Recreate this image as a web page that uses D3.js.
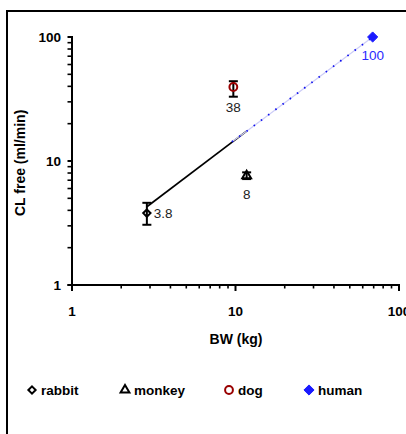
<!DOCTYPE html>
<html>
<head>
<meta charset="utf-8">
<script src="https://cdn.jsdelivr.net/npm/d3@7"></script>
<style>
  html, body { margin: 0; padding: 0; background: #fff; }
  svg { display: block; font-family: Arial, "Liberation Sans", sans-serif; }
</style>
</head>
<body>
<svg id="chart" width="406" height="434"></svg>
<script>
// Species clearance vs. body weight (log–log)
const species   = ["rabbit", "monkey", "dog", "human"];
const bodyWeight = [2.87, 11.7, 9.7, 69];      // kg
const clFree     = [3.8, 7.6, 39.5, 100];      // ml/min
const clLow      = [3.06, 7.15, 33, null];     // lower error limit
const clHigh     = [4.6, 8.1, 44, null];       // upper error limit
const valueLabels = ["3.8", "8", "38", "100"];

// Allometric fit: measured range and extrapolation to human
const fitBW  = [2.87, 11.7];
const fitCL  = [4.28, 17.4];
const extBW  = [9.5, 11.7, 69];
const extCL  = [14.3, 17.4, 100];

const xTicks = [1, 10, 100];
const yTicks = [1, 10, 100];

const svg = d3.select("#chart");

// outer frame
svg.append("rect")
  .attr("x", 7).attr("y", 11)
  .attr("width", 430).attr("height", 440)
  .attr("fill", "none").attr("stroke", "#000").attr("stroke-width", 2);

const x = d3.scaleLog().domain([1, 100]).range([72, 399]);
const y = d3.scaleLog().domain([1, 100]).range([285, 37]);

const minorVals = [];
[1, 10].forEach(d => { for (let k = 2; k <= 9; k++) minorVals.push(d * k); });

// y axis
const yAxisG = svg.append("g").attr("transform", "translate(72,0)");
yAxisG.append("line").attr("y1", y(1)).attr("y2", y(100) - 1)
  .attr("stroke", "#000").attr("stroke-width", 2);
yAxisG.selectAll("line.minor").data(minorVals).join("line")
  .attr("class", "minor")
  .attr("x1", -4.5).attr("x2", 0)
  .attr("y1", d => y(d)).attr("y2", d => y(d))
  .attr("stroke", "#000").attr("stroke-width", 1.6);
yAxisG.selectAll("line.major").data(yTicks).join("line")
  .attr("class", "major")
  .attr("x1", -4.5).attr("x2", 0)
  .attr("y1", d => y(d)).attr("y2", d => y(d))
  .attr("stroke", "#000").attr("stroke-width", 2);
yAxisG.selectAll("text").data(yTicks).join("text")
  .attr("x", -11).attr("y", d => y(d)).attr("dy", "0.36em")
  .attr("text-anchor", "end")
  .attr("font-size", 13.5).attr("font-weight", "bold")
  .text(d => d3.format("d")(d));

// x axis
const xAxisG = svg.append("g").attr("transform", `translate(0,${y(1)})`);
xAxisG.append("line").attr("x1", x(1) - 4.5).attr("x2", x(100) + 1)
  .attr("stroke", "#000").attr("stroke-width", 2);
xAxisG.selectAll("line.minor").data(minorVals).join("line")
  .attr("class", "minor")
  .attr("y1", 0).attr("y2", 3.5)
  .attr("x1", d => x(d)).attr("x2", d => x(d))
  .attr("stroke", "#000").attr("stroke-width", 1.6);
xAxisG.selectAll("line.major").data(xTicks).join("line")
  .attr("class", "major")
  .attr("y1", 0).attr("y2", 6)
  .attr("x1", d => x(d)).attr("x2", d => x(d))
  .attr("stroke", "#000").attr("stroke-width", 2);
xAxisG.selectAll("text").data(xTicks).join("text")
  .attr("x", d => x(d)).attr("y", 26).attr("dy", "0.36em")
  .attr("text-anchor", "middle")
  .attr("font-size", 13.5).attr("font-weight", "bold")
  .text(d => d3.format("d")(d));

// axis titles
svg.append("text")
  .attr("x", 236).attr("y", 339).attr("dy", "0.36em")
  .attr("text-anchor", "middle")
  .attr("font-size", 14).attr("font-weight", "bold")
  .text("BW (kg)");

svg.append("clipPath").attr("id", "ytitle-clip")
  .append("rect").attr("x", 0).attr("y", 101).attr("width", 40).attr("height", 200);
svg.append("g").attr("clip-path", "url(#ytitle-clip)")
  .append("text")
  .attr("transform", "translate(20,216) rotate(-90)")
  .attr("dy", "0.36em")
  .attr("text-anchor", "start")
  .attr("font-size", 14).attr("font-weight", "bold")
  .text("CL free (ml/min)");

// fit lines
const line = d3.line().x(d => x(d[0])).y(d => y(d[1]));
svg.append("path")
  .attr("d", line(d3.zip(fitBW, fitCL)))
  .attr("fill", "none").attr("stroke", "#000").attr("stroke-width", 1.7);
svg.append("path")
  .attr("d", line(d3.zip(extBW, extCL)))
  .attr("fill", "none").attr("stroke", "#cdcdf8").attr("stroke-width", 1.2);
svg.append("path")
  .attr("d", line(d3.zip(extBW, extCL)))
  .attr("fill", "none").attr("stroke", "#1010ee").attr("stroke-width", 1.8)
  .attr("stroke-dasharray", "1.5,7.5");

// markers
const colors = ["#000", "#000", "#990000", "#1a1aff"];
const symbols = [d3.symbolDiamond2, d3.symbolTriangle, d3.symbolCircle, d3.symbolDiamond2];
const symSizes = [34, 34, 48, 66];
const filled = [false, false, false, true];

const pts = species.map((s, i) => ({
  s, bw: bodyWeight[i], cl: clFree[i], lo: clLow[i], hi: clHigh[i],
  label: valueLabels[i], color: colors[i], sym: symbols[i], size: symSizes[i], fill: filled[i]
}));

// error bars
const eb = svg.append("g");
pts.filter(p => p.lo !== null).forEach(p => {
  const cx = x(p.bw);
  eb.append("line").attr("x1", cx).attr("x2", cx)
    .attr("y1", y(p.lo)).attr("y2", y(p.hi))
    .attr("stroke", "#000").attr("stroke-width", 2);
  [p.lo, p.hi].forEach(v => {
    eb.append("line").attr("x1", cx - 4.5).attr("x2", cx + 4.5)
      .attr("y1", y(v)).attr("y2", y(v))
      .attr("stroke", "#000").attr("stroke-width", 2);
  });
});

svg.append("g").selectAll("path").data(pts).join("path")
  .attr("transform", d => `translate(${x(d.bw)},${y(d.cl)})`)
  .attr("d", d => d3.symbol(d.sym, d.size)())
  .attr("fill", d => d.fill ? d.color : "none")
  .attr("stroke", d => d.color)
  .attr("stroke-width", d => d.fill ? 1 : 2);

// value labels
const labelPos = [
  { dx: 7, dy: 0, anchor: "start" },
  { dx: 0, dy: 18, anchor: "middle" },
  { dx: 0, dy: 20, anchor: "middle" },
  { dx: 0, dy: 18, anchor: "middle" }
];
const labelColors = ["#222", "#222", "#222", "#2a2aff"];
svg.append("g").selectAll("text").data(pts).join("text")
  .attr("x", (d, i) => x(d.bw) + labelPos[i].dx)
  .attr("y", (d, i) => y(d.cl) + labelPos[i].dy)
  .attr("dy", "0.36em")
  .attr("text-anchor", (d, i) => labelPos[i].anchor)
  .attr("font-size", 13.5)
  .attr("fill", (d, i) => labelColors[i])
  .text(d => d.label);

// legend
const legendX = [32, 125, 229, 309];
const lg = svg.append("g").attr("transform", "translate(0,390)");
const items = lg.selectAll("g").data(pts).join("g")
  .attr("transform", (d, i) => `translate(${legendX[i]},0)`);
items.append("path")
  .attr("d", d => d3.symbol(d.sym, d.size)())
  .attr("fill", d => d.fill ? d.color : "none")
  .attr("stroke", d => d.color)
  .attr("stroke-width", d => d.fill ? 1 : 2);
items.append("text")
  .attr("x", 9).attr("dy", "0.36em")
  .attr("font-size", 13.5).attr("font-weight", "bold")
  .text(d => d.s);
</script>
</body>
</html>
